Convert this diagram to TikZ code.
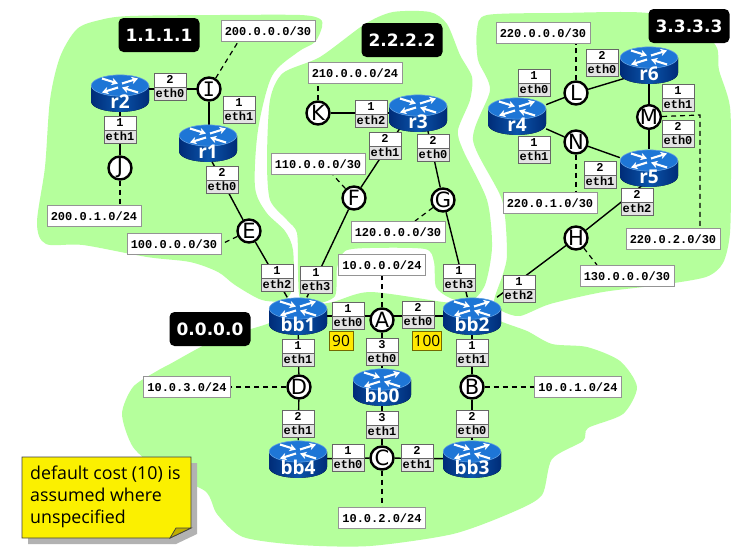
\documentclass[tikz,border=0pt]{standalone}
\usepackage{fontspec}
\setmainfont{DejaVu Sans}
\newfontfamily\monob{Liberation Mono}[BoldFont={Liberation Mono Bold}]
\newfontfamily\serI{DejaVu Sans Mono}
\newfontfamily\notefont{Open Sans}
\usetikzlibrary{calc,arrows.meta,shapes.multipart}
\definecolor{areagreen}{RGB}{181,255,156}
\definecolor{notey}{RGB}{251,240,0}
\definecolor{costy}{RGB}{255,232,0}
\definecolor{rtop}{RGB}{30,118,214}
\definecolor{rdark}{RGB}{0,44,120}
\definecolor{rmid}{RGB}{10,84,170}
\pgfdeclarelayer{bg}
\pgfdeclarelayer{conn}
\pgfsetlayers{bg,conn,main}
\tikzset{
  areafill/.style={fill=areagreen,draw=none},
  routericon/.pic={
    \fill[left color=rdark,right color=rdark,middle color=rmid]
      (-29,-7.5) -- (-29,8) .. controls (-29,22.5) and (29,22.5) .. (29,8) -- (29,-7.5) -- cycle;
    \fill[rtop,draw=rtop!70!white,line width=.6pt] (0,-7.5) ellipse[x radius=28.7,y radius=10.6];
    \begin{scope}[white,line width=2.1pt,-{Stealth[length=6.5pt,width=7.5pt]}]
      \draw (-18,-14.5) -- (-2,-9.5);
      \draw (2,-9.5) -- (18,-14.5);
      \draw (-2,-5.5) -- (-18,-.5);
      \draw (18,-.5) -- (2,-5.5);
    \end{scope}
  },
  router/.style={rectangle,minimum width=58pt,minimum height=37pt,inner sep=0pt,
    font=\notefont\fontsize{19}{19}\selectfont\bfseries,text=white},
  hub/.style={circle,draw=black,fill=white,line width=2.4pt,minimum size=23pt,inner sep=0pt,
    font=\fontsize{21}{21}\selectfont},
  iface/.style={rectangle split,rectangle split parts=2,draw=black!60,line width=.9pt,
    rectangle split part fill={white,black!11},minimum width=32pt,inner xsep=0pt,inner ysep=1.6pt,
    text height=8pt,text depth=1.2pt,font=\monob\fontsize{12}{12}\selectfont\bfseries},
  subnet/.style={rectangle,draw=black!42,line width=.9pt,fill=white,minimum width=94pt,minimum height=21pt,inner sep=0pt,
    font=\monob\fontsize{12}{12}\selectfont\bfseries},
  subnetb/.style={subnet,minimum width=87pt},
  areatag/.style={rectangle,rounded corners=5pt,fill=black,text=white,minimum width=81pt,minimum height=34pt,
    inner sep=0pt,font=\fontsize{17}{18}\selectfont\bfseries},
  cost/.style={rectangle,fill=costy,draw=black!55!costy,line width=.6pt,minimum height=18.5pt,inner sep=0pt,
    font=\notefont\fontsize{15.5}{15.5}\selectfont},
  link/.style={draw=black,line width=1.4pt},
  stub/.style={draw=black,line width=1.2pt,dash pattern=on 5pt off 4pt},
  notetext/.style={align=left,anchor=north west,inner sep=0pt,font=\notefont\fontsize{17.8}{22}\selectfont},
}
\begin{document}
\begin{tikzpicture}[x=1pt,y=-1pt]
\useasboundingbox (0,0) rectangle (740,554);
\begin{pgfonlayer}{bg}
\fill[white] (0,0) rectangle (740,554);
% area 1.1.1.1
\fill[areafill] plot[smooth cycle,tension=.5] coordinates {
 (100,20) (130,16) (220,15) (300,15) (320,19) (322,27) (315,42) (298,52) (272,76) (258,130) (255,187)
 (266,212) (285,231) (293,250) (293,285) (285,300) (262,300) (235,285) (218,272) (190,262) (147,257) (83,245) (46,244) (37,223)
 (45,167) (50,100) (60,57) (77,29)};
% area 2.2.2.2
\fill[areafill] plot[smooth cycle,tension=.45] coordinates {
 (393,12) (430,12) (447,24) (460,55) (472,77) (470,100) (458,130) (463,150) (487,200) (492,247) (485,285) (470,302) (450,298) (436,287)
 (434,262) (425,249) (370,248) (345,251) (337,268) (335,296) (315,304) (300,298) (298,270) (297,233) (287,220) (270,200) (267,160) (270,100) (283,73)
 (320,57) (365,24)};
% area 3.3.3.3
\fill[areafill] plot[smooth cycle,tension=.45] coordinates {
 (477,30) (487,15) (560,13) (648,13) (700,30) (717,48) (719,70) (730,107) (731,170) (730,233) (723,263) (706,277) (660,285) (603,292)
 (550,304) (520,316) (502,311) (494,301) (503,274) (507,253) (502,200) (473,140) (490,90) (478,60)};
% area 0.0.0.0
\fill[areafill] plot[smooth cycle,tension=.45] coordinates {
 (370,292) (333,302) (300,308) (267,324) (215,340) (170,364) (157,371) (133,387) (122,414) (133,447) (160,470) (205,491) (217,514) (243,537) (300,545)
 (370,546) (453,534) (513,512) (542,495) (552,459) (583,441) (588,428) (623,414) (637,387) (620,361) (587,347) (552,344) (527,331) (500,321)
 (470,305) (443,302)};
% note shadow
\fill[black!30] (28,463) -- (197,463) -- (197,534) -- (176,544) -- (28,544) -- cycle;
\end{pgfonlayer}
% note body
\draw[fill=notey,draw=black!75,line width=.9pt] (22,457) -- (191,457) -- (191,528) -- (170,538) -- (22,538) -- cycle;
\fill[costy!75!black,draw=black!75,line width=.7pt] (170,538) -- (176,528) -- (191,528) -- cycle;
\node[notetext] (note) at (30,466) {default cost (10) is\\assumed where\\unspecified};
% area tags
\node[areatag] (t1) at (159,35) {1.1.1.1};
\node[areatag] (t2) at (402,40) {2.2.2.2};
\node[areatag] (t3) at (689,26) {3.3.3.3};
\node[areatag] (t0) at (210,329) {0.0.0.0};
% routers
\foreach \nm/\px/\py in {r2/120/93,r1/208/143,r3/418/113,r4/517/116,r6/649/65,r5/649/168,
  bb1/298/316,bb2/472/316,bb0/382/387,bb4/298/459,bb3/472/459}
  {\pic at (\px,\py) {routericon};
   \node[router] (\nm) at (\px,\py) {\smash{\raisebox{-15pt}{\nm}}};}
% hubs
\foreach \nm/\px/\py in {J/120/168,E/249/231,K/318/113,F/354/198,G/443/200,L/576/93,N/576/142,M/649/117,H/576/238,
  A/382/320,D/299/387,B/472/387,C/382/458}
  \node[hub] (\nm) at (\px,\py) {\nm};
\node[hub,font=\serI\fontsize{20}{20}\selectfont] (I) at (209,89) {I};
% interface labels
\foreach \nm/\px/\py/\ca/\cb in {a1/170/87/2/eth0,a2/239/110/1/eth1,a3/120/130/1/eth1,a4/222/180/2/eth0,a5/277/278/1/eth2,
  a6/316/280/1/eth3,a7/371/114/1/eth2,a8/385/146/2/eth1,a9/433/148/2/eth0,a10/459/278/1/eth3,a11/519/289/1/eth2,
  a12/348/316/1/eth0,a13/418/315/2/eth0,a14/382/352/3/eth0,a15/382/425/3/eth1,a16/298/353/1/eth1,a17/298/424/2/eth1,
  a18/472/353/1/eth1,a19/472/424/2/eth0,a20/348/458/1/eth0,a21/417/458/2/eth1,a22/602/63/2/eth0,a23/534/83/1/eth0,
  a24/534/150/1/eth1,a25/600/175/2/eth1,a26/678/98/1/eth1,a27/678/134/2/eth0,a28/637/202/2/eth2}
  \node[iface] (\nm) at (\px,\py) {\ca\nodepart{two}\cb};
% subnets
\node[subnet] (s1) at (268,31) {200.0.0.0/30};
\node[subnet] (s2) at (94,216) {200.0.1.0/24};
\node[subnet] (s3) at (174,244) {100.0.0.0/30};
\node[subnet] (s4) at (355,73) {210.0.0.0/24};
\node[subnet] (s5) at (318,164) {110.0.0.0/30};
\node[subnet] (s6) at (398,232) {120.0.0.0/30};
\node[subnetb] (s7) at (382,265) {10.0.0.0/24};
\node[subnet] (s8) at (543,33) {220.0.0.0/30};
\node[subnet] (s9) at (550,203) {220.0.1.0/30};
\node[subnet] (s10) at (673,239) {220.0.2.0/30};
\node[subnet] (s11) at (627,276) {130.0.0.0/30};
\node[subnetb] (s12) at (187,387) {10.0.3.0/24};
\node[subnetb] (s13) at (578,387) {10.0.1.0/24};
\node[subnetb] (s14) at (382,518) {10.0.2.0/24};
% costs
\node[cost,minimum width=24pt] (c1) at (341,341) {90};
\node[cost,minimum width=29pt] (c2) at (427,341) {100};
% connectors
\begin{pgfonlayer}{conn}
\draw[link] ($(r2)+(0,-4)$) -- ($(I)+(0,0)$);
\draw[link] (I) -- (I|-r1);
\draw[link] (r2) -- (J);
\draw[link] ($(r1)+(-6,0)$) -- (E);
\draw[link] (E) -- (bb1);
\draw[link] (F) -- (bb1);
\draw[link] (K) -- (K-|r3);
\draw[link] (F) -- ($(r3)+(-8,0)$);
\draw[link] (G) -- ($(r3)+(6,0)$);
\draw[link] (G) -- (bb2);
\draw[link] (L) -- (r4);
\draw[link] (L) -- ($(r6)+(0,6)$);
\draw[link] (N) -- (r4);
\draw[link] (N) -- (r5);
\draw[link] (M) -- (r6);
\draw[link] (M) -- (r5);
\draw[link] (H) -- ($(r5)+(0,12)$);
\draw[link] (H) -- (bb2);
\draw[link] (bb1) -- (bb2);
\draw[link] (A) -- (bb0);
\draw[link] (bb0) -- (C);
\draw[link] (bb1) -- (D);
\draw[link] (D) -- (bb4);
\draw[link] (bb2) -- (B);
\draw[link] (B) -- (bb3);
\draw[link] (bb4) -- (C);
\draw[link] (C) -- (bb3);
\draw[stub] (I) -- ([xshift=-30pt]s1.south);
\draw[stub] (J) -- (J|-s2.north);
\draw[stub] (E) -- (s3.east);
\draw[stub] (K) -- (K|-s4.south);
\draw[stub] (F) -- ([xshift=15pt]s5.south);
\draw[stub] (G) -- ([xshift=17pt]s6.north);
\draw[stub] (A) -- (s7.south);
\draw[stub] (L) -- (L|-s8.south);
\draw[stub] (N) -- (N|-s9.north);
\draw[stub] (M) -- (700,115) -- (700,228.5);
\draw[stub] (H) -- ([xshift=-30pt]s11.north);
\draw[stub] (D) -- (s12.east);
\draw[stub] (B) -- (s13.west);
\draw[stub] (C) -- (s14.north);
\end{pgfonlayer}
\end{tikzpicture}
\end{document}
